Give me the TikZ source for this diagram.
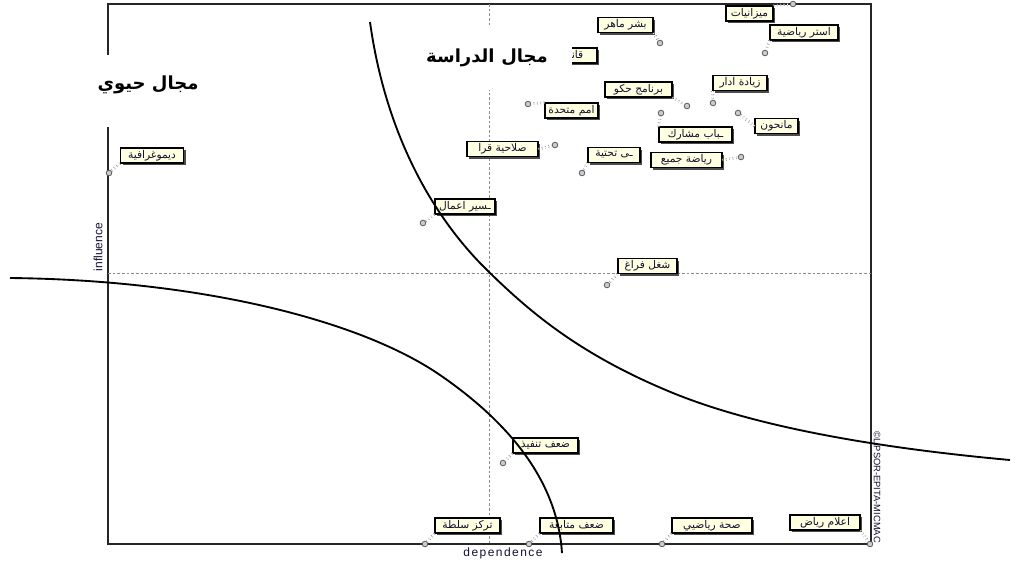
\documentclass[tikz,border=0pt]{standalone}
\usepackage{fontspec}
\usetikzlibrary{shadows}
\TeXXeTstate=1
\newfontfamily\arabicfont[Script=Arabic]{DejaVu Sans}
\newfontfamily\latinfont{Liberation Sans}
\newfontfamily\spacedfont[LetterSpace=12]{Liberation Sans}
\newcommand\rtl[1]{\beginR #1\endR}
\definecolor{notefill}{HTML}{FFFFE1}
\definecolor{notetext}{HTML}{101030}

\tikzset{
  note/.style={draw=black, line width=0.8pt, fill=notefill, inner sep=0pt,
    minimum height=11.25pt, text=notetext,
    font=\arabicfont\fontsize{8}{8.5}\selectfont,
    drop shadow={shadow xshift=1.8pt, shadow yshift=-1.8pt, fill=black!70, opacity=1}},
  dot/.style={circle, draw=black!65, fill=black!20, line width=0.6pt, inner sep=0pt, minimum size=4.2pt},
  link/.style={draw=black!50, dotted, line width=0.55pt, double=white, double distance=0.8pt},
  frame/.style={draw=black!85, line width=0.8pt},
  axis/.style={draw=black!45, dash pattern=on 2pt off 1.5pt, line width=0.5pt},
  zone/.style={draw=black, line width=1.4pt},
  titlebg/.style={fill=white, inner sep=0pt},
  title/.style={font=\arabicfont\bfseries\fontsize{13.5}{15}\selectfont, inner sep=0pt},
}

\begin{document}
\begin{tikzpicture}[x=0.75pt, y=-0.75pt]
\useasboundingbox (0,0) rectangle (1022,562);

% plot frame and the two mean axes
\draw[frame] (108,4) rectangle (871,544);
\draw[axis] (489,4) -- (489,544);
\draw[axis] (108,273) -- (871,273);

% variable points
\node[dot] (p1) at (109,173) {};
\node[dot] (p2) at (423,223) {};
\node[dot] (p3) at (607,285) {};
\node[dot] (p4) at (555,145) {};
\node[dot] (p5) at (528,104) {};
\node[dot] (p7) at (660,43) {};
\node[dot] (p8) at (793,4) {};
\node[dot] (p9) at (765,53) {};
\node[dot] (p10) at (687,106) {};
\node[dot] (p11) at (713,103) {};
\node[dot] (p12) at (738,113) {};
\node[dot] (p13) at (661,113) {};
\node[dot] (p14) at (741,157) {};
\node[dot] (p15) at (582,173) {};
\node[dot] (p16) at (503,463) {};
\node[dot] (p17) at (425,544) {};
\node[dot] (p18) at (529,544) {};
\node[dot] (p19) at (662,544) {};
\node[dot] (p20) at (870,544) {};

% variable labels
\node[note, minimum width=47.25pt] (n1) at (152,155.5) {\rtl{ديموغرافية}};
\node[note, minimum width=45pt] (n2) at (465,206.5) {\rtl{ـسير اعمال}};
\node[note, minimum width=44.25pt] (n3) at (647.5,266) {\rtl{شغل فراغ}};
\node[note, minimum width=53.25pt] (n4) at (502.5,149) {\rtl{صلاحية قرا}};
\node[note, minimum width=39.75pt] (n5) at (571.5,110.5) {\rtl{امم متحدة}};
\node[note, minimum width=39pt] (n6) at (571,55.5) {\rtl{قانون}};
\node[note, minimum width=41.25pt] (n7) at (625.5,25) {\rtl{بشر ماهر}};
\node[note, minimum width=35.25pt] (n8) at (749.5,13.5) {\rtl{ميزانيات}};
\node[note, minimum width=51pt] (n9) at (804,32.5) {\rtl{استر رياضية}};
\node[note, minimum width=50.25pt] (n10) at (638.5,89.5) {\rtl{برنامج حكو}};
\node[note, minimum width=40.5pt] (n11) at (740,83) {\rtl{زيادة ادار}};
\node[note, minimum width=32.25pt] (n12) at (776.5,126) {\rtl{مانحون}};
\node[note, minimum width=54.75pt] (n13) at (695.5,134.5) {\rtl{ـباب مشارك}};
\node[note, minimum width=53.25pt] (n14) at (686.5,160) {\rtl{رياضة جميع}};
\node[note, minimum width=39pt] (n15) at (614,155) {\rtl{ـى تحتية}};
\node[note, minimum width=48.75pt] (n16) at (545.5,445.5) {\rtl{ضعف تنفيذ}};
\node[note, minimum width=48.75pt] (n17) at (467.5,525.5) {\rtl{تركز سلطة}};
\node[note, minimum width=54.75pt] (n18) at (576.5,525.5) {\rtl{ضعف متابعة}};
\node[note, minimum width=60pt] (n19) at (712,525.5) {\rtl{صحة رياضيي}};
\node[note, minimum width=52.5pt] (n20) at (825,522.5) {\rtl{اعلام رياض}};

% leader lines from labels to points
\draw[link] (n1.south west) -- (p1);
\draw[link] (n2.south west) -- (p2);
\draw[link] (n3.south west) -- (p3);
\draw[link] (n4.east) -- (p4);
\draw[link] (n5.north west) -- (p5);
\draw[link] (n7.south east) -- (p7);
\draw[link] (n8.north east) -- (p8);
\draw[link] (n9.south west) -- (p9);
\draw[link] (n10.south east) -- (p10);
\draw[link] (n11.south west) -- (p11);
\draw[link] (n12.west) -- (p12);
\draw[link] (n13.north west) -- (p13);
\draw[link] (n14.east) -- (p14);
\draw[link] (n15.south west) -- (p15);
\draw[link] (n16.south west) -- (p16);
\draw[link] (n17.south west) -- (p17);
\draw[link] (n18.south west) -- (p18);
\draw[link] (n19.south west) -- (p19);
\draw[link] (n20.south east) -- (p20);

% zone titles on white panels
\node[titlebg, minimum width=82.5pt, minimum height=54pt] (t1bg) at (150,91) {};
\node[title] (t1) at (148,85) {\rtl{مجال حيوي}};
\node[titlebg, minimum width=121.5pt, minimum height=48.75pt] (t2bg) at (491,57.5) {};
\node[title] (t2) at (487,58) {\rtl{مجال\hspace{5pt}الدراسة}};

% zone boundaries
\draw[zone] (370,22) .. controls (385,130) and (430,215) .. (489,272)
  .. controls (530,312) and (580,355) .. (673,393)
  .. controls (766,431) and (900,450) .. (1010,460);
\draw[zone] (10,278) .. controls (200,280) and (360,320) .. (440,375)
  .. controls (520,430) and (558,490) .. (562,553);

% axis names and watermark
\node[font=\latinfont\fontsize{9}{10}\selectfont, rotate=90, text=notetext, inner sep=0pt] (infl) at (98,247) {influence};
\node[font=\spacedfont\fontsize{9}{10}\selectfont, text=notetext, inner sep=0pt] (dep) at (503,553) {dependence};
\node[font=\latinfont\fontsize{7}{8}\selectfont, rotate=-90, text=notetext, inner sep=0pt] (mark) at (877,487) {©LIPSOR-EPITA-MICMAC};
\end{tikzpicture}
\end{document}
